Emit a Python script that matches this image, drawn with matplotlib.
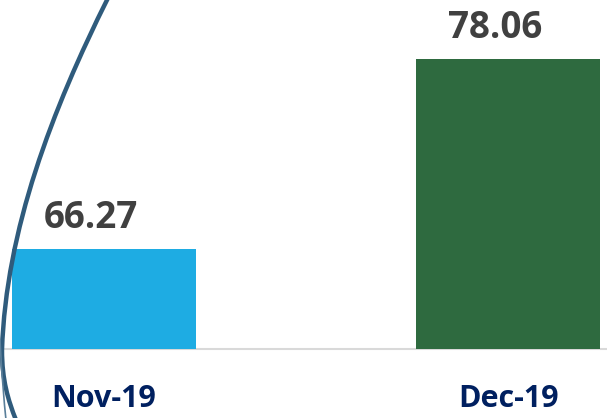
import matplotlib.pyplot as plt
from matplotlib.path import Path
from matplotlib.patches import PathPatch

# 数据
months = ['Nov-19', 'Dec-19']
values = [66.27, 78.06]
bar_colors = ['#1EACE3', '#2E6A3F']

plt.rcParams['font.family'] = ['Open Sans', 'DejaVu Sans']

fig = plt.figure(figsize=(6.07, 4.18), dpi=100)
ax = fig.add_axes([0, 0.165, 1, 0.835])

x = range(len(months))
bars = ax.bar(x, values, width=0.455, color=bar_colors, zorder=3)

ax.set_xlim(-0.2574, 1.245)
ax.set_ylim(60, 81.77)

# 数值标签
for b, v in zip(bars, values):
    ax.annotate(f'{v:.2f}', (b.get_x() + b.get_width() / 2, v),
                xytext=(-13, 12), textcoords='offset pixels',
                ha='center', va='bottom', fontsize=26.5, fontweight='bold',
                color='#404040')

ax.set_xticks(list(x))
ax.set_xticklabels(months, fontsize=22, fontweight='bold', color='#002060')
ax.tick_params(axis='x', length=0, pad=25)
ax.set_yticks([])
for s in ['top', 'left', 'right']:
    ax.spines[s].set_visible(False)
ax.spines['bottom'].set_color('#D9D9D9')
ax.spines['bottom'].set_linewidth(1.5)

# 左侧装饰弧线 (像素坐标)
W, H = 607, 418
def px(p):
    return (p[0] / W, 1 - p[1] / H)

arc = Path([px((108, -2)), px((52, 110)), px((6, 230)), px((2, 350)),
            px((2, 380)), px((8, 400)), px((16, 420))],
           [Path.MOVETO, Path.CURVE4, Path.CURVE4, Path.CURVE4,
            Path.CURVE4, Path.CURVE4, Path.CURVE4])
fig.patches.append(PathPatch(arc, transform=fig.transFigure, fill=False,
                             edgecolor='#2F5B7C', lw=3.2, zorder=5))
thin = Path([px((0, 340)), px((2, 380)), px((4, 400)), px((6, 420))],
            [Path.MOVETO, Path.CURVE4, Path.CURVE4, Path.CURVE4])
fig.patches.append(PathPatch(thin, transform=fig.transFigure, fill=False,
                             edgecolor='#5A7F9A', lw=1.2, zorder=5))

fig.savefig('out.png', dpi=100)
